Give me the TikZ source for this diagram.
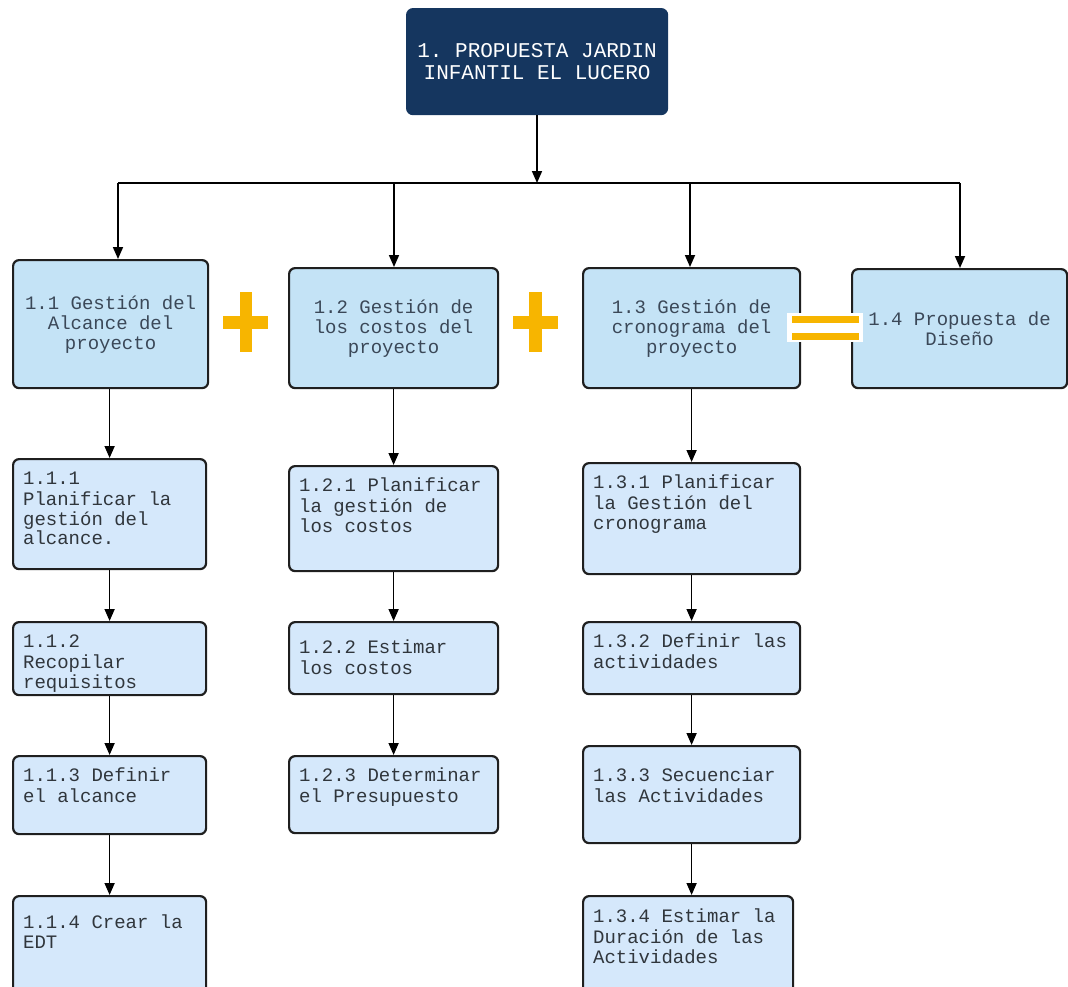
\documentclass[tikz,border=0pt]{standalone}
\usepackage{fontspec}
\setmainfont{Liberation Mono}
\frenchspacing
\usetikzlibrary{arrows.meta}
\definecolor{navy}{HTML}{15365F}
\definecolor{lone}{HTML}{C4E3F6}
\definecolor{ltwo}{HTML}{D5E8FB}
\definecolor{amber}{HTML}{F7B500}
\definecolor{edgec}{HTML}{1F1F1F}
\definecolor{txtone}{HTML}{3B4858}
\definecolor{txttwo}{HTML}{30363C}
\newcommand\lvtxt[4][12]{\parbox[c][#3pt][t]{#2pt}{\vspace*{#1pt}\leftskip=10pt\rightskip=0pt plus 1fil\parindent=0pt\fontsize{19}{19.6}\selectfont\strut #4}}
\tikzset{
  boxbase/.style={draw=edgec, line width=2.2pt, rounded corners=6pt, inner sep=0pt, anchor=north west},
  topbox/.style={boxbase, draw=navy, fill=navy, text=white, align=center, font=\fontsize{21}{22}\selectfont},
  onebox/.style={boxbase, fill=lone, text=txtone, align=center, font=\fontsize{19}{20}\selectfont},
  twobox/.style={boxbase, fill=ltwo, text=txttwo},
  arr/.style={line width=1.7pt, draw=black, -{Triangle[length=12pt,width=10pt]}},
  plainline/.style={line width=1.7pt, draw=black}
}
\begin{document}
\begin{tikzpicture}[x=1pt,y=-1pt]
\useasboundingbox (0,0) rectangle (1068,986);
% top
\node[topbox, minimum width=260pt, minimum height=105pt] (top) at (406,8) {\frenchspacing 1. PROPUESTA JARDIN\\INFANTIL EL LUCERO};
% level 1
\node[onebox, minimum width=195pt, minimum height=128pt] (b11) at (12,259) {1.1 Gestión del\\Alcance del\\proyecto};
\node[onebox, minimum width=209pt, minimum height=120pt] (b12) at (288,267) {1.2 Gestión de\\los costos del\\proyecto};
\node[onebox, minimum width=217pt, minimum height=120pt] (b13) at (582,267) {1.3 Gestión de\\cronograma del\\proyecto};
\node[onebox, minimum width=215pt, minimum height=119pt] (b14) at (851,268) {1.4 Propuesta de\\Diseño};
% level 2 col 1
\node[twobox] (b111) at (12,458) {\lvtxt{193}{110}{1.1.1\\Planificar la\\gestión del\\alcance.}};
\node[twobox] (b112) at (12,621) {\lvtxt{193}{73}{1.1.2\\Recopilar\\requisitos}};
\node[twobox] (b113) at (12,755) {\lvtxt{193}{78}{1.1.3 Definir\\el alcance}};
\node[twobox] (b114) at (12,895) {\lvtxt[19]{193}{100}{1.1.4 Crear la\\EDT}};
% col 2
\node[twobox] (b121) at (288,465) {\lvtxt{209}{105}{1.2.1 Planificar\\la gestión de\\los costos}};
\node[twobox] (b122) at (288,621) {\lvtxt[18]{209}{72}{1.2.2 Estimar\\los costos}};
\node[twobox] (b123) at (288,755) {\lvtxt{209}{77}{1.2.3 Determinar\\el Presupuesto}};
% col 3
\node[twobox] (b131) at (582,462) {\lvtxt{217}{111}{1.3.1 Planificar\\la Gestión del\\cronograma}};
\node[twobox] (b132) at (582,621) {\lvtxt{217}{72}{1.3.2 Definir las\\actividades}};
\node[twobox] (b133) at (582,745) {\lvtxt[22]{217}{97}{1.3.3 Secuenciar\\las Actividades}};
\node[twobox] (b134) at (582,895) {\lvtxt[13]{210}{100}{1.3.4 Estimar la\\Duración de las\\Actividades}};
% top connectors
\coordinate (j) at (537,183);
\coordinate (hl) at (118,183);
\coordinate (hr) at (960,183);
\coordinate (t12) at (394,183);
\coordinate (t13) at (690,183);
\draw[arr] (top.south -| j) -- (j);
\draw[plainline] (hl) -- (hr);
\draw[arr] (hl) -- (hl |- b11.north);
\draw[arr] (t12) -- (t12 |- b12.north);
\draw[arr] (t13) -- (t13 |- b13.north);
\draw[arr] (hr) -- (hr |- b14.north);
% column connectors
\draw[arr] (b111.north |- b11.south) -- (b111.north);
\draw[arr] (b111.south) -- (b112.north);
\draw[arr] (b112.south) -- (b113.north);
\draw[arr] (b113.south) -- (b114.north);
\draw[arr] (b12.south) -- (b121.north);
\draw[arr] (b121.south) -- (b122.north);
\draw[arr] (b122.south) -- (b123.north);
\draw[arr] (b13.south) -- (b131.north);
\draw[arr] (b131.south) -- (b132.north);
\draw[arr] (b132.south) -- (b133.north);
\draw[arr] (b133.south) -- (b133.south |- b134.north);
% plus signs
\fill[amber] (239.5,292) rectangle (252,352);
\fill[amber] (223,316) rectangle (268,329);
\fill[amber] (529,292) rectangle (541.5,352);
\fill[amber] (513,316) rectangle (558,329);
% equals sign
\fill[white] (787,313) rectangle (863,342);
\fill[amber] (792,316) rectangle (859,323);
\fill[amber] (792,333) rectangle (859,339.5);
\end{tikzpicture}
\end{document}
